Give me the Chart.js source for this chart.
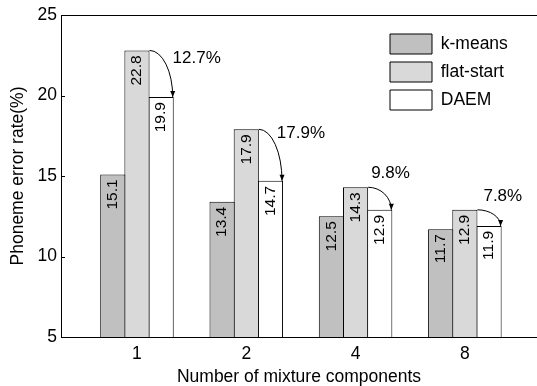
<!DOCTYPE html>
<html>
<head>
<meta charset="utf-8">
<script src="https://cdn.jsdelivr.net/npm/chart.js@4"></script>
<style>
  html, body { margin: 0; padding: 0; background: #fff; }
  #wrap { width: 537px; height: 386px; }
</style>
</head>
<body>
<div id="wrap"><canvas id="chart"></canvas></div>
<script>
// data
const categories = ['1', '2', '4', '8'];
const kmeans = [15.1, 13.4, 12.5, 11.7];
const flatStart = [22.8, 17.9, 14.3, 12.9];
const daem = [19.9, 14.7, 12.9, 11.9];
const reductions = ['12.7%', '17.9%', '9.8%', '7.8%'];
const yTicks = [5, 10, 15, 20, 25];

// where each % label sits, relative to the flat-start bar's top-right corner
const pctOffsets = [[23, 8], [18, 4], [3, -14], [6, -13]];

const FONT = '"Liberation Sans", Arial, Helvetica, sans-serif';
Chart.defaults.font.family = FONT;
Chart.defaults.font.size = 17.5;
Chart.defaults.color = '#000';

const toPoints = arr => arr.map((v, i) => ({ x: i, y: v }));

const decor = {
  id: 'decor',
  afterLayout(chart) {
    const lg = chart.legend;
    lg.left = 382; lg.top = 26;
    lg.right = lg.left + lg.width; lg.bottom = lg.top + lg.height;
  },
  afterDatasetsDraw(chart) {
    const ctx = chart.ctx, area = chart.chartArea, y = chart.scales.y;
    ctx.save();
    ctx.strokeStyle = '#000';
    ctx.fillStyle = '#000';
    ctx.lineWidth = 1;

    // top frame + inward ticks on the y axis
    ctx.beginPath();
    ctx.moveTo(area.left, Math.round(area.top) + 0.5);
    ctx.lineTo(area.right, Math.round(area.top) + 0.5);
    yTicks.forEach(v => {
      const py = Math.round(y.getPixelForValue(v)) + 0.5;
      ctx.moveTo(area.left, py);
      ctx.lineTo(area.left + 4, py);
    });
    ctx.stroke();

    // values written up the bars
    const series = [kmeans, flatStart, daem];
    ctx.font = '15.5px ' + FONT;
    ctx.textAlign = 'right';
    ctx.textBaseline = 'middle';
    series.forEach((vals, di) => {
      chart.getDatasetMeta(di).data.forEach((bar, i) => {
        ctx.save();
        ctx.translate(bar.x, bar.y + 5);
        ctx.rotate(-Math.PI / 2);
        ctx.fillText(vals[i].toFixed(1), 0, 0);
        ctx.restore();
      });
    });

    // curved arrows flat-start -> DAEM with the relative reduction
    const fs = chart.getDatasetMeta(1).data, dm = chart.getDatasetMeta(2).data;
    ctx.font = '17px ' + FONT;
    ctx.textAlign = 'left';
    fs.forEach((b, i) => {
      const x0 = b.x + b.width / 2, y0 = b.y;
      const d = dm[i];
      const x1 = d.x + d.width / 2 - 1, y1 = d.y;
      ctx.beginPath();
      ctx.ellipse(x0, y1, x1 - x0, y1 - y0, 0, -Math.PI / 2, 0);
      ctx.stroke();
      ctx.beginPath();
      ctx.moveTo(x1, y1);
      ctx.lineTo(x1 - 2.5, y1 - 6);
      ctx.lineTo(x1 + 2.5, y1 - 6);
      ctx.closePath();
      ctx.fill();
      ctx.fillText(reductions[i], x0 + pctOffsets[i][0], y0 + pctOffsets[i][1]);
    });
    ctx.restore();
  }
};

new Chart(document.getElementById('chart'), {
  type: 'bar',
  data: {
    datasets: [
      { label: 'k-means', data: toPoints(kmeans), backgroundColor: '#c0c0c0' },
      { label: 'flat-start', data: toPoints(flatStart), backgroundColor: '#d9d9d9' },
      { label: 'DAEM', data: toPoints(daem), backgroundColor: '#ffffff' }
    ]
  },
  options: {
    responsive: true,
    maintainAspectRatio: false,
    animation: false,
    layout: { padding: { top: 15, right: 0, left: 0, bottom: 0 } },
    datasets: {
      bar: {
        borderColor: '#000',
        borderWidth: 1,
        categoryPercentage: 0.664,
        barPercentage: 1.04
      }
    },
    plugins: {
      tooltip: { enabled: false },
      legend: {
        position: 'chartArea',
        align: 'start',
        labels: { boxWidth: 42, boxHeight: 20, padding: 8, font: { size: 17.5 } }
      }
    },
    scales: {
      x: {
        type: 'linear',
        offset: false,
        bounds: 'data',
        min: -0.695,
        max: 3.66,
        afterBuildTicks: s => { s.ticks = categories.map((_, i) => ({ value: i })); },
        afterFit: s => { s.height = 49; },
        grid: { display: false, drawTicks: false },
        border: { display: true, color: '#000', width: 1 },
        ticks: { padding: 7, callback: v => categories[v] },
        title: { display: true, text: 'Number of mixture components', padding: { top: 0, bottom: -2 } }
      },
      y: {
        min: 5,
        max: 25,
        afterBuildTicks: s => { s.ticks = yTicks.map(v => ({ value: v })); },
        afterFit: s => { s.width = 61; },
        grid: { display: false, drawTicks: false },
        border: { display: true, color: '#000', width: 1 },
        ticks: { padding: 4 },
        title: { display: true, text: 'Phoneme error rate(%)', padding: { top: 8, bottom: 0 } }
      }
    }
  },
  plugins: [decor]
});
</script>
</body>
</html>
